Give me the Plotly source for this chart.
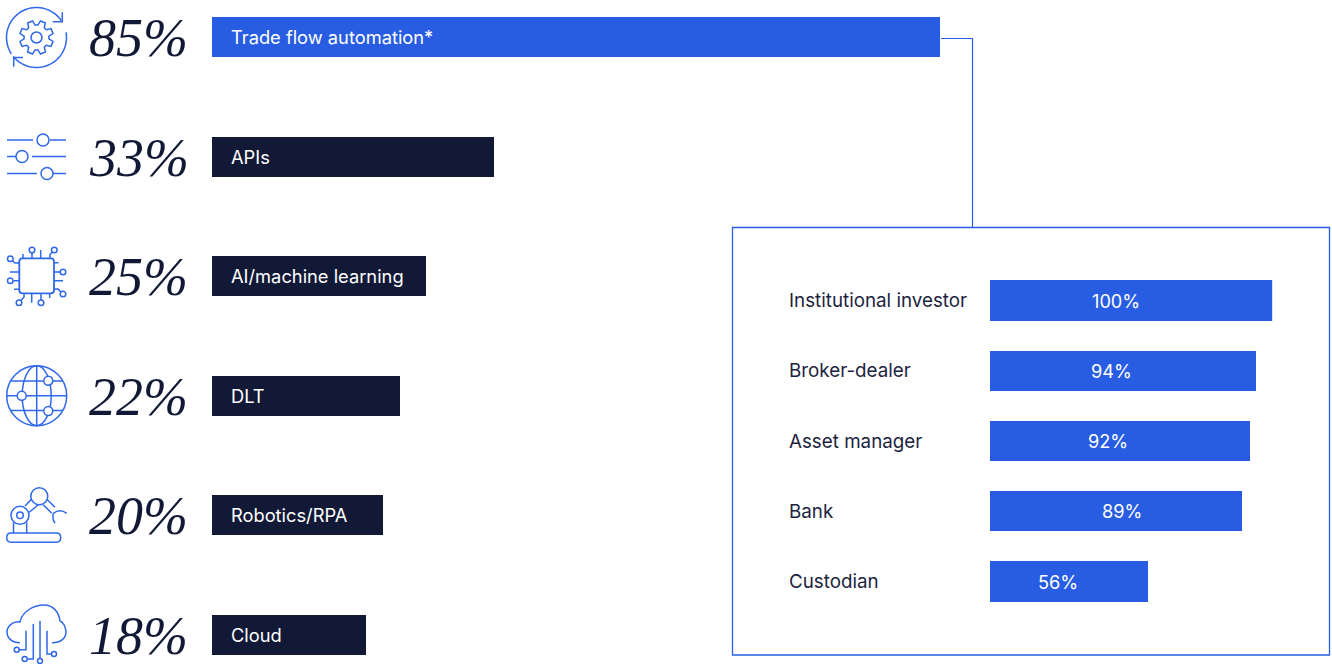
import math
import plotly.graph_objects as go

# ---------- data ----------
tech_labels = ["Trade flow automation*", "APIs", "AI/machine learning", "DLT", "Robotics/RPA", "Cloud"]
tech_values = [85, 33, 25, 22, 20, 18]
firm_labels = ["Institutional investor", "Broker-dealer", "Asset manager", "Bank", "Custodian"]
firm_values = [100, 94, 92, 89, 56]

# ---------- style ----------
W, H = 1332, 664
BLUE = "#285DE3"
ICON = "#2F68EA"
NAVY = "#111936"
INK = "#1C2340"
SANS = "Inter, sans-serif"
SERIF = "Liberation Serif, serif"
firm_label_shift = [-15, -11, -12, 7, -11]

fig = go.Figure()
fig.add_trace(go.Bar(
    x=tech_values, y=tech_labels, orientation="h", width=0.335,
    marker=dict(color=[BLUE] + [NAVY] * 5, line_width=0),
    xaxis="x", yaxis="y", hoverinfo="skip", showlegend=False))
fig.add_trace(go.Bar(
    x=firm_values, y=firm_labels, orientation="h", width=0.57,
    marker=dict(color=BLUE, line_width=0),
    xaxis="x2", yaxis="y2", hoverinfo="skip", showlegend=False))

ann = []
for lab, v in zip(tech_labels, tech_values):
    ann.append(dict(x=0, y=lab, xref="x", yref="y", text=lab, xanchor="left", xshift=17,
                    showarrow=False, font=dict(family=SANS, size=18.3, color="#FFFFFF")))
    ann.append(dict(x=87, y=lab, xref="x3", yref="y", text=f"{v}%", xanchor="left", yshift=-1, height=54,
                    showarrow=False, font=dict(family=SERIF, size=54, color=NAVY, style="italic")))
for lab, v, s in zip(firm_labels, firm_values, firm_label_shift):
    ann.append(dict(x=v / 2, y=lab, xref="x2", yref="y2", text=f"{v}%", xanchor="center", xshift=s,
                    showarrow=False, font=dict(family=SANS, size=18.2, color="#FFFFFF")))
    ann.append(dict(x=787, y=lab, xref="x3", yref="y2", text=lab, xanchor="left",
                    showarrow=False, font=dict(family=SANS, size=18.8, color=INK)))

shapes = []


def path(d, color=ICON, width=1.5, fill=None):
    shapes.append(dict(type="path", path=d, xref="x3", yref="y3", layer="above",
                       line=dict(color=color, width=width),
                       fillcolor=fill if fill else "rgba(0,0,0,0)"))


def circ(cx, cy, r, color=ICON, width=1.5, fill="#FFFFFF"):
    shapes.append(dict(type="circle", x0=cx - r, x1=cx + r, y0=cy - r, y1=cy + r,
                       xref="x3", yref="y3", layer="above",
                       line=dict(color=color, width=width), fillcolor=fill))


# panel + connector
shapes.append(dict(type="rect", x0=732.5, x1=1329.5, y0=227.5, y1=655, xref="x3", yref="y3",
                   layer="below", line=dict(color=BLUE, width=1.3), fillcolor="rgba(0,0,0,0)"))
path("M941,38.5 L972.5,38.5 L972.5,227.5", color=BLUE, width=1.2)


def arc(cx, cy, r, a0, a1, n=40):
    pts = []
    for i in range(n + 1):
        a = math.radians(a0 + (a1 - a0) * i / n)
        pts.append((cx + r * math.cos(a), cy + r * math.sin(a)))
    return "M" + " L".join(f"{x:.2f},{y:.2f}" for x, y in pts)


# icon 1: gear with rotating arrows
cx, cy = 36.5, 37.5
path(arc(cx, cy, 30, 147, 326))
path(arc(cx, cy, 30, -10, 141))
path("M62.3,12.3 L62.3,21.7 L52.7,21.7")
path("M13.7,66.7 L13.7,57.5 L23,57.5")
pts = []
teeth = 8
for i in range(teeth):
    base = 360 / teeth * i - 22.5
    for da, r in [(-16, 12.5), (-9, 17), (9, 17), (16, 12.5)]:
        a = math.radians(base + da)
        pts.append((cx + r * math.cos(a), cy + r * math.sin(a)))
path("M" + " L".join(f"{x:.2f},{y:.2f}" for x, y in pts) + " Z")
circ(cx, cy, 5.5)

# icon 2: sliders
path("M7,140 L33,140 M50,140 L66,140")
circ(43, 140, 6)
path("M7,156.5 L16,156.5 M32,156.5 L66,156.5")
circ(22, 156.5, 6)
path("M7,173.5 L37,173.5 M53,173.5 L66,173.5")
circ(47, 173.5, 6)

# icon 3: chip
path("M22.3,258.3 L51,258.3 Q54,258.3 54,261.3 L54,290.3 Q54,293.3 51,293.3 L22.3,293.3 "
     "Q19.3,293.3 19.3,290.3 L19.3,261.3 Q19.3,258.3 22.3,258.3 Z", width=1.8)
path("M40.7,250 L40.7,258.3 M23,254 L23,258.3 M32,253 L32,258.3 M50,258.3 L50,254.5 L52,252.3")
path("M10,272 L19.3,272 M13,280.7 L19.3,280.7 M14,289.3 L19.3,289.3 M19.3,263 L15,263 L12.3,260.7")
path("M54,272 L60,272 M54,280.7 L63,280.7 M54,262.7 L58.5,262.7 M54,289 L58,289 L61,292")
path("M31.7,293.3 L31.7,302.7 M24,293.3 L24,297 L21,300.5 M41,293.3 L41,300 M49.7,293.3 L49.7,298")
for c in [(32, 250), (54.3, 250), (10.3, 258.7), (10.3, 280.7), (63, 272), (63, 294), (19, 302.7), (41, 302.7)]:
    circ(c[0], c[1], 2.8)

# icon 4: globe
gx, gy = 36.7, 395.7
circ(gx, gy, 30, fill="rgba(0,0,0,0)")
shapes.append(dict(type="circle", x0=gx - 14.5, x1=gx + 14.5, y0=gy - 30, y1=gy + 30, xref="x3", yref="y3",
                   layer="above", line=dict(color=ICON, width=1.5), fillcolor="rgba(0,0,0,0)"))
path(f"M{gx},{gy-30} L{gx},{gy+30} M{gx-30},{gy} L{gx+30},{gy} "
     f"M{gx-26},{gy-14.7} L{gx+26},{gy-14.7} M{gx-26},{gy+14.7} L{gx+26},{gy+14.7}")
circ(48.3, 380.7, 4.5)
circ(21.7, 395.7, 4.5)
circ(48.3, 411, 4.5)

# icon 5: robot arm
path("M11,533 L56.4,533 Q60.7,533 60.7,537.6 Q60.7,542.3 56.4,542.3 L11,542.3 "
     "Q6.7,542.3 6.7,537.6 Q6.7,533 11,533 Z")
path("M13.5,522.5 L13.5,533 M26.7,522.5 L26.7,533")
circ(20, 515.3, 9)
circ(20, 515.3, 3.3)
path("M25,506 L31.7,499 M29.3,512.3 L38.3,504.7 M46.7,499 L55,507.3 M43.3,504.7 L51.7,513.3")
circ(39.3, 496.3, 8.5)
path("M53.3,513.3 Q60,508 66.7,513.3 M53.3,513.3 Q52,520 55,523.3")

# icon 6: cloud
path("M20,642.7 C12,642.7 7,638 7,632 C7,626 13,621 20,622 C22,612 33,605 44,605 "
     "C53,605 59,612 60,621 C63,622 66,627 66,632 C66,638 61,642.7 52,642.7")
path("M26,630.7 L26,649.7 L19,649.7 M33.3,624 L33.3,659 L28,659 M40,621 L40,658.5 M47,630.7 L47,654 L51,654")
for c in [(16.7, 649.7), (24.7, 659), (40, 661), (54, 654)]:
    circ(c[0], c[1], 2.5)

fig.update_layout(
    width=W, height=H, autosize=False, margin=dict(l=0, r=0, t=0, b=0),
    paper_bgcolor="#FFFFFF", plot_bgcolor="rgba(0,0,0,0)", showlegend=False,
    bargap=0, annotations=ann, shapes=shapes,
    xaxis=dict(domain=[212 / W, 1], range=[0, (W - 212) / 8.56], visible=False),
    yaxis=dict(domain=[0, 1], type="category", categoryorder="array", categoryarray=tech_labels,
               range=[5.247, -0.314], visible=False),
    xaxis2=dict(domain=[989.5 / W, 1272.2 / W], range=[0, 100], visible=False, anchor="y2"),
    yaxis2=dict(domain=[1 - 651 / H, 1 - 231 / H], type="category", categoryorder="array",
                categoryarray=firm_labels, anchor="x2",
                range=[4 + (651 - 581.5) / 70.25, -(300.5 - 231) / 70.25], visible=False),
    xaxis3=dict(domain=[0, 1], range=[0, W], visible=False, anchor="y3"),
    yaxis3=dict(domain=[0, 1], range=[H, 0], visible=False, anchor="x3"),
)
fig.write_html("out.html", config={"displayModeBar": False},
               post_script="document.body.style.margin='0';document.body.style.overflow='hidden';")
